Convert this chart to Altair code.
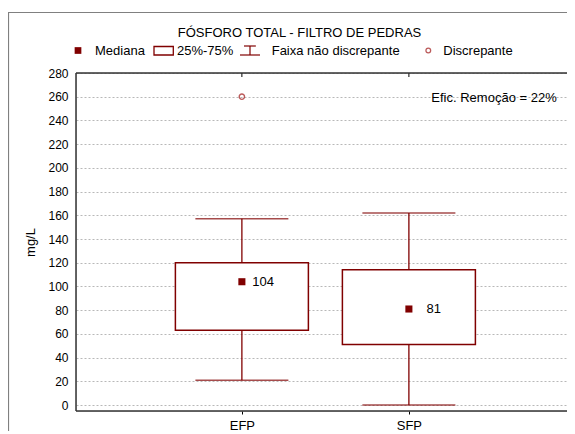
import altair as alt
import pandas as pd

# ---- data ----
categories = ["EFP", "SFP"]
q1 = [63, 51]
q3 = [120, 114]
medians = [104, 81]
whisker_lo = [21, 0]
whisker_hi = [157, 162]
outlier_cat = ["EFP"]
outlier_val = [260]
y_ticks = list(range(0, 281, 20))

title_text = "FÓSFORO TOTAL - FILTRO DE PEDRAS"
note_text = "Efic. Remoção = 22%"
legend_labels = ["Mediana", "25%-75%", "Faixa não discrepante", "Discrepante"]

RED = "#800000"
FONT = "Liberation Sans"
W, H = 491, 338

box_df = pd.DataFrame({
    "cat": categories, "q1": q1, "q3": q3, "med": medians,
    "lo": whisker_lo, "hi": whisker_hi,
})
box_df["label"] = box_df["med"].astype(str)
out_df = pd.DataFrame({"cat": outlier_cat, "val": outlier_val})

xs = alt.X(
    "cat:N", sort=categories, title=None,
    scale=alt.Scale(type="point", padding=0.97, align=0.512),
    axis=alt.Axis(domain=False, ticks=True, tickSize=3, tickColor="#000",
                  labelPadding=5, labelFontSize=13, labelFont=FONT,
                  labelColor="#000", labelAngle=0, grid=False),
)
ys = alt.Scale(domain=[-5, 280], nice=False, zero=False)
yaxis = alt.Axis(values=y_ticks, domain=False, ticks=False, labelPadding=8,
                 labelOverlap=False, tickCount=15,
                 labelFontSize=12, labelFont=FONT, labelColor="#000",
                 grid=True, gridColor="#b8b8b8", gridDash=[2, 2], gridWidth=1,
                 title="mg/L", titleFont=FONT, titleFontSize=13,
                 titleFontWeight="normal", titleColor="#000",
                 titleX=-46, titleBaseline="middle")


def Y(field):
    return alt.Y(field, scale=ys, axis=yaxis)


base = alt.Chart(box_df)

whisk_low = base.mark_rule(color=RED, strokeWidth=1.3).encode(
    x=xs, y=Y("lo:Q"), y2="q1:Q")
whisk_high = base.mark_rule(color=RED, strokeWidth=1.3).encode(
    x=xs, y=Y("q3:Q"), y2="hi:Q")
cap_lo = base.mark_tick(color=RED, size=93, thickness=1.5).encode(
    x=xs, y=Y("lo:Q"))
cap_hi = base.mark_tick(color=RED, size=93, thickness=1.5).encode(
    x=xs, y=Y("hi:Q"))
box = base.mark_bar(size=133, fill="white", stroke=RED, strokeWidth=1.5).encode(
    x=xs, y=Y("q1:Q"), y2="q3:Q")
med = base.mark_square(size=50, color=RED, opacity=1).encode(
    x=xs, y=Y("med:Q"))
med_lbl = base.mark_text(align="right", baseline="middle", dx=32,
                         fontSize=13, font=FONT, color="#000").encode(
    x=xs, y=Y("med:Q"), text="label:N")
outl = alt.Chart(out_df).mark_point(shape="circle", size=28, filled=False,
                                    stroke="#a01818", strokeWidth=1.4).encode(
    x=xs, y=Y("val:Q"))
top_ticks = base.mark_rule(color="#000", strokeWidth=1).encode(
    x=xs, y=alt.value(0), y2=alt.value(4))


def one(label):
    return alt.Chart(pd.DataFrame({"t": [label]}))


BORDER = "#333333"
border_top = one("bt").mark_rule(color=BORDER, strokeWidth=1.5).encode(
    x=alt.value(0), x2=alt.value(W + 20), y=alt.value(0))
border_bot = one("bb").mark_rule(color=BORDER, strokeWidth=1.5).encode(
    x=alt.value(0), x2=alt.value(W + 20), y=alt.value(H))
border_left = one("bl").mark_rule(color=BORDER, strokeWidth=1.5).encode(
    x=alt.value(0), y=alt.value(0), y2=alt.value(H))

frame = one("frame").mark_rect(fill=None, stroke="#808080", strokeWidth=1.2).encode(
    x=alt.value(-67.5), x2=alt.value(560), y=alt.value(-60.5), y2=alt.value(420))

title = one(title_text).mark_text(align="center", baseline="alphabetic",
                                  fontSize=13, font=FONT, color="#000").encode(
    x=alt.value(223.5), y=alt.value(-36.3), text="t:N")

note = one(note_text).mark_text(align="right", baseline="alphabetic",
                                fontSize=13, font=FONT, color="#000").encode(
    x=alt.value(480.7), y=alt.value(29), text="t:N")

lg_y = -18
leg_sq = one("sq").mark_square(size=45, color=RED, opacity=1).encode(
    x=alt.value(2), y=alt.value(-22.5))
leg_box = one("bx").mark_rect(fill="white", stroke=RED, strokeWidth=1.3).encode(
    x=alt.value(78), x2=alt.value(97.3), y=alt.value(-26.5), y2=alt.value(-18))
leg_w_v = one("wv").mark_rule(color=RED, strokeWidth=1.2).encode(
    x=alt.value(174), y=alt.value(-27), y2=alt.value(-18))
leg_w_b = one("wb").mark_rule(color=RED, strokeWidth=1.2).encode(
    x=alt.value(164), x2=alt.value(184), y=alt.value(-18))
leg_w_t = one("wt").mark_rule(color=RED, strokeWidth=1.2).encode(
    x=alt.value(168), x2=alt.value(180), y=alt.value(-27))
leg_c = one("c").mark_point(shape="circle", size=22, filled=False,
                            stroke="#a01818", strokeWidth=1.3).encode(
    x=alt.value(352.3), y=alt.value(-22.5))

leg_texts = []
for lbl, xv in zip(legend_labels, [19, 101, 195.7, 367.3]):
    leg_texts.append(one(lbl).mark_text(align="left", baseline="alphabetic",
                                        fontSize=13, font=FONT, color="#000").encode(
        x=alt.value(xv), y=alt.value(lg_y), text="t:N"))

chart = alt.layer(
    whisk_low, whisk_high, cap_lo, cap_hi, box, med, med_lbl, outl, top_ticks,
    border_top, border_bot, border_left,
    frame, title, note, leg_sq, leg_box, leg_w_v, leg_w_b, leg_w_t, leg_c,
    *leg_texts,
).properties(
    width=W, height=H,
    autosize=alt.AutoSizeParams(type="none"),
    padding={"left": 68, "top": 65, "right": 0, "bottom": 20},
).configure_view(
    stroke="transparent", strokeWidth=0
).configure(background="white")

chart.save("out.html", embed_options={"renderer": "svg", "actions": False})
